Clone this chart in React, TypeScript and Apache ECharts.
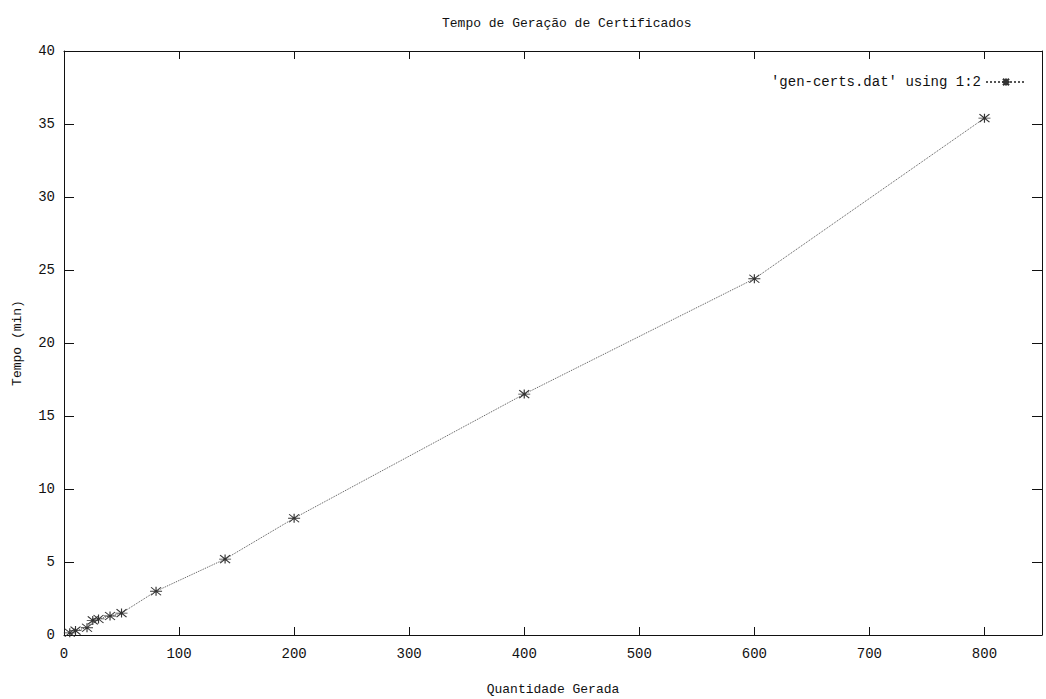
import React, { useEffect, useRef } from "react";
import * as echarts from "echarts";

// Generation time (minutes) by number of certificates generated
const quantities = [5, 10, 20, 25, 30, 40, 50, 80, 140, 200, 400, 600, 800];
const minutes = [0.15, 0.3, 0.5, 1.0, 1.1, 1.3, 1.5, 3.0, 5.2, 8.0, 16.5, 24.4, 35.4];

const seriesName = "'gen-certs.dat' using 1:2";
const titleText = "Tempo de Geração de Certificados";
const xName = "Quantidade Gerada";
const yName = "Tempo (min)";

const FONT = "'Liberation Mono', 'DejaVu Sans Mono', monospace";
const INK = "#111";

// asterisk-like point marker (plus and cross overlaid)
const STAR = "path://M0,4.5L12,4.5M6,0L6,9M1,0.5L11,8.5M11,0.5L1,8.5";

export default function App() {
  const ref = useRef<HTMLDivElement>(null);

  useEffect(() => {
    if (!ref.current) return;
    const chart = echarts.init(ref.current, undefined, { renderer: "svg" });

    const points = quantities.map((q, i) => [q, minutes[i]]);
    const label = { fontFamily: FONT, fontSize: 14, color: INK };

    const xBase = {
      type: "value" as const,
      min: 0,
      max: 850,
      interval: 100,
      splitLine: { show: false },
      axisLine: { show: true, onZero: false, lineStyle: { color: INK, width: 1 } },
      axisTick: { show: true, inside: true, length: 8, lineStyle: { color: INK } },
    };
    const yBase = {
      type: "value" as const,
      min: 0,
      max: 40,
      interval: 5,
      splitLine: { show: false },
      axisLine: { show: true, onZero: false, lineStyle: { color: INK, width: 1 } },
      axisTick: { show: true, inside: true, length: 10, lineStyle: { color: INK } },
    };

    chart.setOption({
      animation: false,
      backgroundColor: "#fff",
      title: {
        text: titleText,
        left: 437,
        top: 12,
        textStyle: { fontFamily: FONT, fontSize: 13, fontWeight: "normal", color: INK },
      },
      legend: {
        right: 14,
        top: 70,
        align: "right",
        itemWidth: 40,
        itemHeight: 9,
        itemGap: 6,
        textStyle: { ...label },
        data: [seriesName],
      },
      grid: { left: 64, right: 4, top: 51, bottom: 64, outerBoundsMode: "none" },
      xAxis: [
        {
          ...xBase,
          position: "bottom",
          name: xName,
          nameLocation: "middle",
          nameGap: 48,
          nameTextStyle: { ...label, fontSize: 13 },
          axisLabel: {
            ...label,
            margin: 12,
            formatter: (v: number) => (v % 100 === 0 ? String(v) : ""),
          },
        },
        { ...xBase, position: "top", axisLabel: { show: false } },
      ],
      yAxis: [
        {
          ...yBase,
          position: "left",
          name: yName,
          nameLocation: "middle",
          nameRotate: 90,
          nameGap: 40,
          nameTextStyle: { ...label, fontSize: 13 },
          axisLabel: { ...label, margin: 9 },
        },
        { ...yBase, position: "right", axisLabel: { show: false } },
      ],
      series: [
        {
          name: seriesName,
          type: "line",
          xAxisIndex: 0,
          yAxisIndex: 0,
          data: points,
          symbol: STAR,
          symbolSize: [12, 9],
          showAllSymbol: true,
          lineStyle: { color: "#555", width: 1, type: "dotted" },
          itemStyle: { color: "transparent", borderColor: "#333", borderWidth: 1 },
        },
      ],
    });

    return () => chart.dispose();
  }, []);

  return (
    <div
      ref={ref}
      style={{ position: "fixed", left: 0, top: 0, width: 1046, height: 699 }}
    />
  );
}
